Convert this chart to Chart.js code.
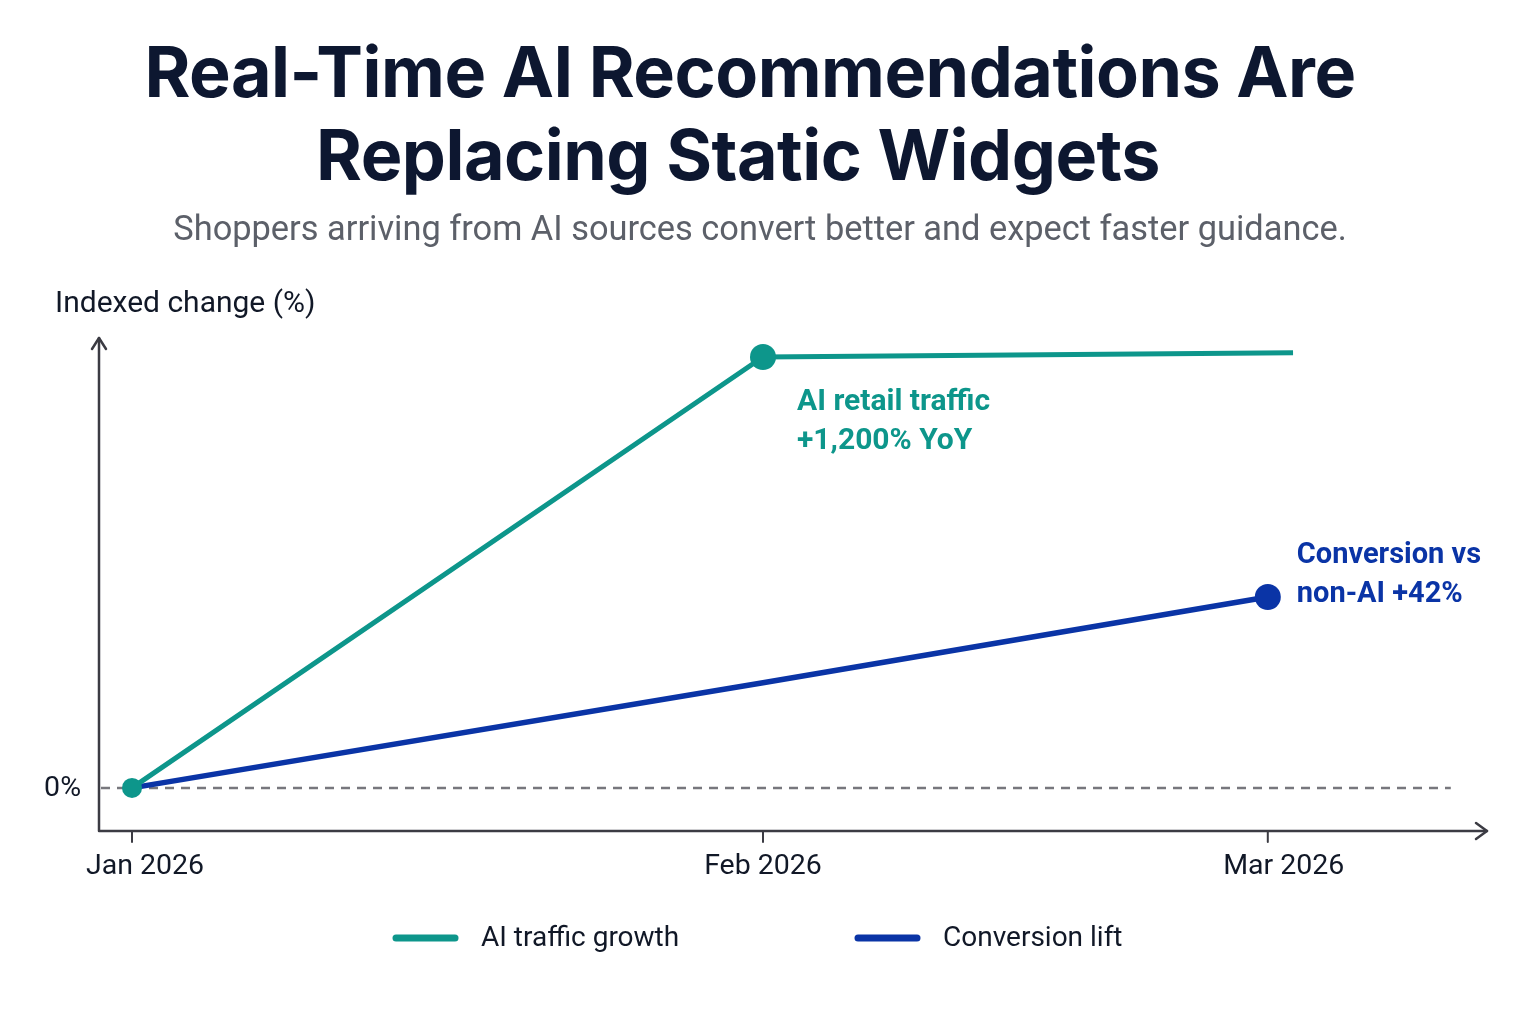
<!DOCTYPE html>
<html>
<head>
<meta charset="utf-8">
<script src="https://cdn.jsdelivr.net/npm/chart.js@4.4.1/dist/chart.umd.min.js"></script>
<style>
  html, body { margin: 0; padding: 0; background: #fff; }
  .wrap { position: relative; width: 1536px; height: 1024px; overflow: hidden; }
  .title {
    position: absolute; left: 0; width: 1500px; top: 30px; text-align: center;
    font-family: Inter, sans-serif; font-weight: 700; font-size: 70px; line-height: 83px;
    color: #0d1730; letter-spacing: -0.5px;
  }
  .title .l2 { position: relative; left: -12px; }
  .subtitle {
    position: absolute; left: 0; width: 1520px; top: 208px; text-align: center;
    font-family: Roboto, sans-serif; font-size: 34.4px; color: #5c6069;
  }
  canvas { position: absolute; left: 0; top: 0; }
</style>
</head>
<body>
<div class="wrap">
  <canvas id="chart" width="1536" height="1024"></canvas>
  <div class="title">Real-Time AI Recommendations Are<br><span class="l2">Replacing Static Widgets</span></div>
  <div class="subtitle">Shoppers arriving from AI sources convert better and expect faster guidance.</div>
</div>
<script>
// month ticks and where they sit on the x scale
const months = ['Jan 2026', 'Feb 2026', 'Mar 2026'];
const monthPos = [0, 1, 1.8];

// AI traffic growth (indexed)
const aiTrafficX = [0, 1, 1.84];
const aiTraffic = [0, 100, 101];

// Conversion lift (indexed)
const conversionX = [0, 1, 1.8];
const conversion = [0, 24.4, 44.3];

const yTicks = [0];

const TEAL = '#0d968b';
const BLUE = '#0a34a6';
const AXIS = '#3b3b43';
const FONT = 'Roboto, sans-serif';

const toPoints = (xs, ys) => xs.map((x, i) => ({ x: x, y: ys[i] }));

// axes with arrows, ticks, labels, callouts, legend
const decor = {
    id: 'decor',
    beforeDatasetsDraw(chart) {
        const { ctx, chartArea: a, scales: { x, y } } = chart;
        ctx.save();
        // dashed zero line
        const y0 = y.getPixelForValue(0);
        ctx.strokeStyle = '#77777d';
        ctx.lineWidth = 2.5;
        ctx.setLineDash([9, 7]);
        ctx.beginPath();
        ctx.moveTo(a.left + 2, y0);
        ctx.lineTo(x.getPixelForValue(2.09), y0);
        ctx.stroke();
        ctx.setLineDash([]);

        // axes
        ctx.strokeStyle = AXIS;
        ctx.lineWidth = 2.5;
        ctx.lineCap = 'round';
        ctx.lineJoin = 'round';
        ctx.beginPath();
        ctx.moveTo(a.left, a.top);
        ctx.lineTo(a.left, a.bottom);
        ctx.lineTo(a.right, a.bottom);
        ctx.stroke();
        ctx.beginPath();
        ctx.moveTo(a.left - 7, a.top + 11);
        ctx.lineTo(a.left, a.top);
        ctx.lineTo(a.left + 7, a.top + 11);
        ctx.moveTo(a.right - 11, a.bottom - 8);
        ctx.lineTo(a.right, a.bottom);
        ctx.lineTo(a.right - 11, a.bottom + 8);
        ctx.stroke();

        // x ticks + labels (labels sit a little off their ticks in the original)
        const labelShift = [13, 0, 16];
        ctx.lineWidth = 2;
        ctx.fillStyle = '#111827';
        ctx.font = '28.5px ' + FONT;
        ctx.textAlign = 'center';
        ctx.textBaseline = 'middle';
        monthPos.forEach((p, i) => {
            const px = x.getPixelForValue(p);
            ctx.beginPath();
            ctx.moveTo(px, a.bottom);
            ctx.lineTo(px, a.bottom + 11);
            ctx.stroke();
            ctx.fillText(months[i], px + labelShift[i], a.bottom + 36);
        });

        // y tick label
        ctx.textAlign = 'right';
        yTicks.forEach(v => ctx.fillText(v + '%', 81, y.getPixelForValue(v) + 1));

        // y axis title
        ctx.font = '30px ' + FONT;
        ctx.textAlign = 'left';
        ctx.fillText('Indexed change (%)', 55, 304);
        ctx.restore();
    },
    afterDatasetsDraw(chart) {
        const { ctx, scales: { x, y } } = chart;
        ctx.save();
        ctx.font = 'bold 30px ' + FONT;
        ctx.textAlign = 'left';
        ctx.textBaseline = 'middle';
        // callouts anchored to the data points
        const gx = x.getPixelForValue(aiTrafficX[1]);
        const gy = y.getPixelForValue(aiTraffic[1]);
        ctx.fillStyle = TEAL;
        ctx.fillText('AI retail traffic', gx + 34, gy + 46);
        ctx.fillText('+1,200% YoY', gx + 34, gy + 85);
        const bx = x.getPixelForValue(conversionX[2]);
        const by = y.getPixelForValue(conversion[2]);
        ctx.font = 'bold 29px ' + FONT;
        ctx.fillStyle = BLUE;
        ctx.fillText('Conversion vs', bx + 29, by - 41);
        ctx.fillText('non-AI +42%', bx + 29, by - 2);

        // legend
        const legendX = [393, 855];
        ctx.font = '28px ' + FONT;
        ctx.lineCap = 'round';
        ctx.lineWidth = 7;
        chart.data.datasets.forEach((ds, i) => {
            ctx.strokeStyle = ds.borderColor;
            ctx.beginPath();
            ctx.moveTo(legendX[i] + 3, 938);
            ctx.lineTo(legendX[i] + 62, 938);
            ctx.stroke();
            ctx.fillStyle = '#111827';
            ctx.fillText(ds.label, legendX[i] + 88, 939);
        });
        ctx.restore();
    }
};

new Chart(document.getElementById('chart'), {
    type: 'line',
    data: {
        datasets: [{
            label: 'AI traffic growth',
            data: toPoints(aiTrafficX, aiTraffic),
            borderColor: TEAL,
            backgroundColor: TEAL,
            borderWidth: 5,
            pointRadius: [10, 13, 0],
            pointBorderWidth: 0,
            tension: 0
        }, {
            label: 'Conversion lift',
            data: toPoints(conversionX, conversion),
            borderColor: BLUE,
            backgroundColor: BLUE,
            borderWidth: 5.5,
            pointRadius: [0, 0, 13],
            pointBorderWidth: 0,
            tension: 0
        }]
    },
    options: {
        responsive: false,
        animation: false,
        layout: { padding: { left: 99, right: 49, top: 338, bottom: 193 } },
        plugins: { legend: { display: false }, tooltip: { enabled: false } },
        scales: {
            x: { type: 'linear', min: -33 / 631, max: 1355 / 631, display: false },
            y: { min: -10, max: 104.4, display: false }
        }
    },
    plugins: [decor]
});
</script>
</body>
</html>
